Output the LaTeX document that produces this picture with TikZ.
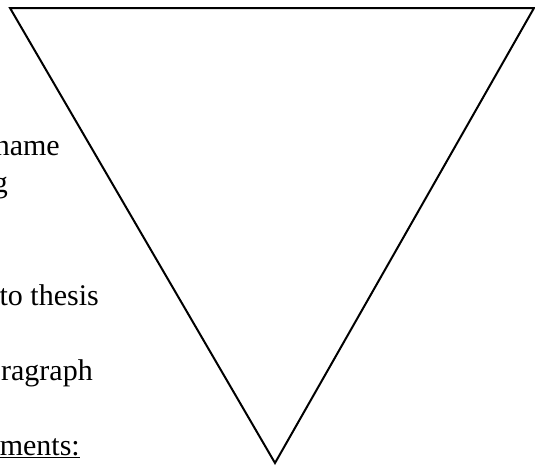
\documentclass[tikz,border=0pt]{standalone}
\usepackage{fontspec}
\setmainfont{Liberation Serif}
\begin{document}
\begin{tikzpicture}[x=1pt,y=-1pt,
  frag/.style={anchor=base east,inner sep=0pt,font=\fontsize{30}{36}\selectfont},
  tri/.style={draw=black,line width=2pt,line join=miter}]
\useasboundingbox (0,0) rectangle (535,466);
\clip (0,0) rectangle (535,466);
\coordinate (tl) at (10,8);
\coordinate (tr) at (534,8);
\coordinate (bt) at (275,463);
\draw[tri] (tl) -- (tr) -- (bt) -- cycle;
\node[frag] (t1) at (60,155) {name};
\node[frag] (t2) at (8,192) {g};
\node[frag] (t3) at (99,305) {to thesis};
\node[frag] (t4) at (93,380) {ragraph};
\node[frag] (t5) at (80,455) {\underline{ments:}};
\end{tikzpicture}
\end{document}
